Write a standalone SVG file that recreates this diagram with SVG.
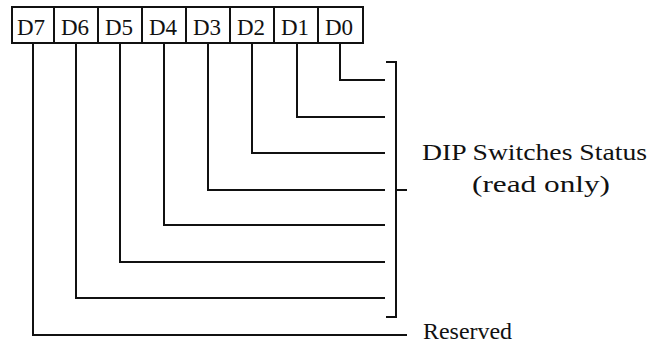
<svg xmlns="http://www.w3.org/2000/svg" width="665" height="347" viewBox="0 0 665 347">
<style>
.box{fill:#fff;stroke:#111;stroke-width:2}
.lbl{font-family:'Liberation Serif','Times New Roman',Times,serif;font-size:23px;fill:#111;text-anchor:middle}
.txt{font-family:'Liberation Serif','Times New Roman',Times,serif;font-size:24px;fill:#111}
.ln{fill:none;stroke:#111;stroke-width:2;stroke-linecap:square}
</style>
<rect width="665" height="347" fill="#fff"/>
<g id="D7"><rect class="box" x="12" y="7" width="42" height="36"/><text class="lbl" x="31" y="35">D7</text></g>
<g id="D6"><rect class="box" x="54" y="7" width="44" height="36"/><text class="lbl" x="75" y="35">D6</text></g>
<g id="D5"><rect class="box" x="98" y="7" width="44" height="36"/><text class="lbl" x="119" y="35">D5</text></g>
<g id="D4"><rect class="box" x="142" y="7" width="44" height="36"/><text class="lbl" x="163" y="35">D4</text></g>
<g id="D3"><rect class="box" x="186" y="7" width="44" height="36"/><text class="lbl" x="207" y="35">D3</text></g>
<g id="D2"><rect class="box" x="230" y="7" width="44" height="36"/><text class="lbl" x="251" y="35">D2</text></g>
<g id="D1"><rect class="box" x="274" y="7" width="44" height="36"/><text class="lbl" x="295" y="35">D1</text></g>
<g id="D0"><rect class="box" x="318" y="7" width="45" height="36"/><text class="lbl" x="339" y="35">D0</text></g>
<g id="connectors">
<polyline class="ln" points="340,44 340,80 384,80"/>
<polyline class="ln" points="297,44 297,117 384,117"/>
<polyline class="ln" points="252,44 252,153 384,153"/>
<polyline class="ln" points="208,44 208,190 384,190"/>
<polyline class="ln" points="164,44 164,225 384,225"/>
<polyline class="ln" points="120,44 120,262 384,262"/>
<polyline class="ln" points="76,44 76,298 384,298"/>
<polyline class="ln" points="33,44 33,335 406,335"/>
<polyline class="ln" points="387,62 396,62 396,317 387,317"/>
<line class="ln" x1="396" y1="190" x2="406" y2="190"/>
</g>
<g id="status">
<text class="txt" x="422" y="160" textLength="225" lengthAdjust="spacingAndGlyphs">DIP Switches Status</text>
<text class="txt" x="472" y="192" textLength="138" lengthAdjust="spacingAndGlyphs">(read only)</text>
</g>
<g id="reserved"><text class="txt" x="423" y="339" textLength="89" lengthAdjust="spacingAndGlyphs">Reserved</text></g>
</svg>
